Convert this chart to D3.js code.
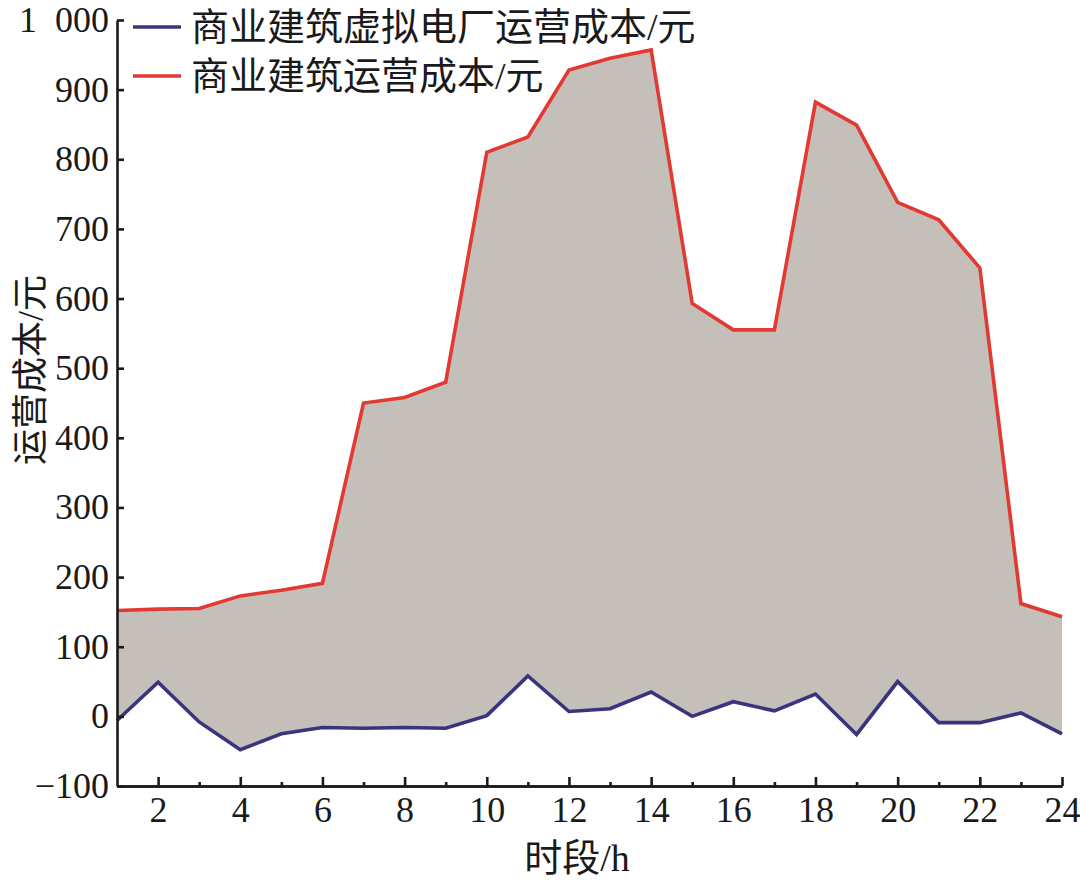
<!DOCTYPE html>
<html lang="zh">
<head>
  <meta charset="UTF-8">
  <script src="https://cdn.jsdelivr.net/npm/d3@7"></script>
  <title>运营成本</title>
  <style>
    body { margin: 0; background: #fff; }
    text { font-family: "Liberation Serif", "Noto Sans CJK SC", serif; fill: #1a1a1a; }
  </style>
</head>
<body>
  <svg width="1080" height="884" id="chart"></svg>
  <script>
    // hours 1..24
    let hours = d3.range(1, 25);
    // 商业建筑虚拟电厂运营成本/元
    let vppCost = [-6, 49, -8, -48, -25, -16, -17, -16, -17, 1, 58, 7,
                   11, 35, 0, 21, 8, 32, -26, 50, -9, -9, 5, -25];
    // 商业建筑运营成本/元
    let buildingCost = [152, 154, 155, 173, 181, 191, 450, 458, 480, 810, 832, 928,
                        945, 957, 593, 555, 555, 882, 849, 738, 713, 644, 162, 143];
    let yTicks = d3.range(-100, 1001, 100);
    let seriesNames = ["商业建筑虚拟电厂运营成本/元", "商业建筑运营成本/元"];
    let seriesColors = ["#3a347f", "#e23a33"];

    let svg = d3.select("#chart");

    let mLeft = 117, mRight = 1062, mTop = 20, mBottom = 786;

    let x = d3.scaleLinear().domain([1, 24]).range([mLeft, mRight]);
    let y = d3.scaleLinear().domain([-100, 1000]).range([mBottom, mTop]);

    let data = hours.map((h, i) => ({h: h, a: vppCost[i], b: buildingCost[i]}));

    /* AREA between the two lines */
    let area = d3.area()
      .x(d => x(d.h))
      .y0(d => y(d.a))
      .y1(d => y(d.b));
    svg.append("path")
      .datum(data)
      .attr("d", area)
      .attr("fill", "#c5bfba");

    /* LINES */
    let lineA = d3.line().x(d => x(d.h)).y(d => y(d.a));
    let lineB = d3.line().x(d => x(d.h)).y(d => y(d.b));
    svg.append("path").datum(data).attr("d", lineA)
      .attr("fill", "none").attr("stroke", seriesColors[0]).attr("stroke-width", 3.6);
    svg.append("path").datum(data).attr("d", lineB)
      .attr("fill", "none").attr("stroke", seriesColors[1]).attr("stroke-width", 3.6);

    /* AXES */
    let fmt = v => v === 1000 ? "1\u2002000" : d3.format("")(v);
    let axisY = d3.axisLeft(y)
      .tickValues(yTicks)
      .tickSizeInner(-7)
      .tickSizeOuter(0)
      .tickPadding(8)
      .tickFormat(fmt);
    svg.append("g").attr("transform", `translate(${mLeft},0)`).call(axisY);

    let axisXMinor = d3.axisBottom(x)
      .tickValues(hours.filter(h => h % 2 === 1 && h > 1))
      .tickSizeInner(-4)
      .tickSizeOuter(0)
      .tickFormat("");
    let axisX = d3.axisBottom(x)
      .tickValues(hours.filter(h => h % 2 === 0))
      .tickSizeInner(-9)
      .tickSizeOuter(0)
      .tickPadding(10);
    svg.append("g").attr("transform", `translate(0,${mBottom})`).call(axisXMinor);
    svg.append("g").attr("transform", `translate(0,${mBottom})`).call(axisX);

    svg.selectAll(".domain").attr("stroke", "#1a1a1a").attr("stroke-width", 2.6);
    svg.selectAll(".tick line").attr("stroke", "#1a1a1a").attr("stroke-width", 2.6);
    svg.selectAll(".tick text")
      .attr("font-size", 36)
      .style("font-family", "'Liberation Serif', serif")
      .attr("fill", "#1a1a1a");

    /* AXIS TITLES */
    svg.append("text")
      .attr("x", 577).attr("y", 871)
      .attr("text-anchor", "middle")
      .attr("font-size", 38)
      .text("时段/h");
    svg.append("text")
      .attr("transform", "translate(43,370) rotate(-90)")
      .attr("text-anchor", "middle")
      .attr("font-size", 36)
      .text("运营成本/元");

    /* LEGEND */
    let legend = svg.append("g");
    seriesNames.forEach((name, i) => {
      let ly = 27 + i * 49;
      legend.append("line")
        .attr("x1", 133).attr("x2", 181)
        .attr("y1", ly).attr("y2", ly)
        .attr("stroke", seriesColors[i]).attr("stroke-width", 3.6);
      legend.append("text")
        .attr("x", 191).attr("y", ly + 13)
        .attr("font-size", 38)
        .text(name);
    });
  </script>
</body>
</html>
